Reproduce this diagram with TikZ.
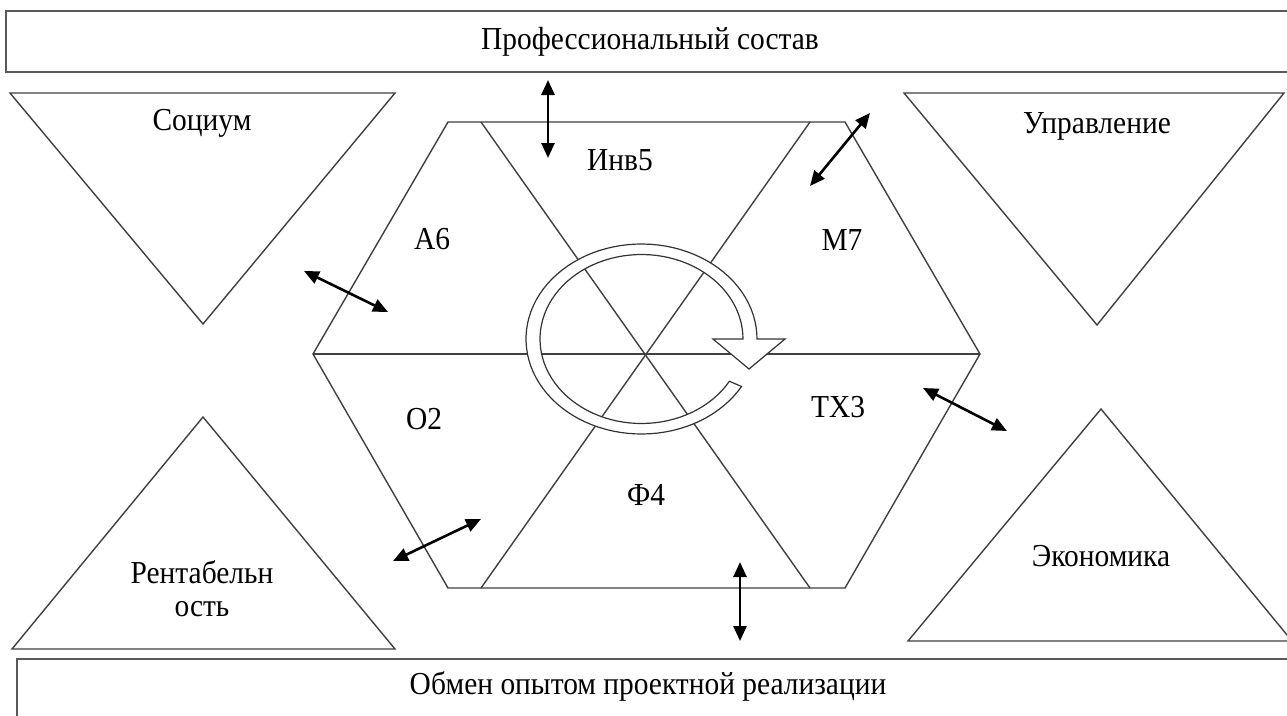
\documentclass[tikz,border=0pt]{standalone}
\usepackage{fontspec}
\setmainfont{Liberation Serif}
\usetikzlibrary{arrows.meta}
\newcommand{\sqz}[1]{\scalebox{0.92}[1]{#1}}
\begin{document}
\begin{tikzpicture}[x=1pt,y=-1pt,
  shapeline/.style={draw=black!75,line width=1.4pt},
  bar/.style={draw=black!65,line width=2.2pt},
  lbl/.style={font=\fontsize{32}{33}\selectfont,inner sep=0pt,align=center},
  link/.style={line width=2.6pt,{Triangle[length=15pt,width=13pt]}-{Triangle[length=15pt,width=13pt]}}]

\useasboundingbox (0,0) rectangle (1287,715);
\clip (0,0) rectangle (1287,715);
\fill[white] (0,0) rectangle (1287,715);

% bars
\draw[bar] (6,11) rectangle (1300,72);
\draw[bar] (17,659) rectangle (1300,730);
\node[lbl] (prof) at (650,42) {\sqz{Профессиональный состав}};
\node[lbl] (obmen) at (648,686) {\sqz{Обмен опытом проектной реализации}};

% triangles
\draw[shapeline] (10,93) -- (395,93) -- (203,324) -- cycle;
\draw[shapeline] (904,93) -- (1284,93) -- (1097,325) -- cycle;
\draw[shapeline] (203,417) -- (395,649) -- (12,649) -- cycle;
\draw[shapeline] (1101,409) -- (1292,641) -- (908,641) -- cycle;
\node[lbl] (soc) at (202,123) {\sqz{Социум}};
\node[lbl] (upr) at (1097,126) {\sqz{Управление}};
\node[lbl] (rent) at (202,589) {\sqz{Рентабельн}\\\sqz{ость}};
\node[lbl] (econ) at (1101,556) {\sqz{Экономика}};

% hexagon
\coordinate (L) at (313,354);
\coordinate (R) at (980,354);
\coordinate (TL) at (448,122);
\coordinate (TR) at (845,122);
\coordinate (BL) at (448,588);
\coordinate (BR) at (845,588);
\coordinate (T1) at (481,122);
\coordinate (T2) at (810,122);
\coordinate (B1) at (481,588);
\coordinate (B2) at (810,588);
\draw[shapeline] (L) -- (TL) -- (TR) -- (R) -- (BR) -- (BL) -- cycle;
\draw[shapeline] (L) -- (R);
\draw[shapeline] (T1) -- (B2);
\draw[shapeline] (T2) -- (B1);

% circular arrow
\filldraw[fill=white,draw=black!80,line width=1.2pt]
  plot[domain=30:360,samples=90] ({641.5+115.5*cos(\x)},{339+95*sin(\x)})
  -- (785,339) -- (749,369) -- (713,339)
  -- plot[domain=360:30,samples=90] ({641.5+101.5*cos(\x)},{339+84.5*sin(\x)}) -- cycle;

% sector labels
\node[lbl] (inv) at (620,160) {\sqz{Инв5}};
\node[lbl] (a6) at (432,239) {\sqz{А6}};
\node[lbl] (m7) at (842,240) {\sqz{М7}};
\node[lbl] (o2) at (424,419) {\sqz{О2}};
\node[lbl] (tx3) at (838,407) {\sqz{ТХ3}};
\node[lbl] (f4) at (646,495) {\sqz{Ф4}};

% double arrows
\coordinate (a1s) at (548,80);   \coordinate (a1e) at (548,158);
\coordinate (a2s) at (870,113);  \coordinate (a2e) at (810,186);
\coordinate (a3s) at (304,271);  \coordinate (a3e) at (388,312);
\coordinate (a4s) at (923,388);  \coordinate (a4e) at (1007,431);
\coordinate (a5s) at (393,561);  \coordinate (a5e) at (481,519);
\coordinate (a6s) at (740,562);  \coordinate (a6e) at (740,641);
\draw[link] (a1s) -- (a1e);
\draw[link] (a2s) -- (a2e);
\draw[link] (a3s) -- (a3e);
\draw[link] (a4s) -- (a4e);
\draw[link] (a5s) -- (a5e);
\draw[link] (a6s) -- (a6e);
\end{tikzpicture}
\end{document}
